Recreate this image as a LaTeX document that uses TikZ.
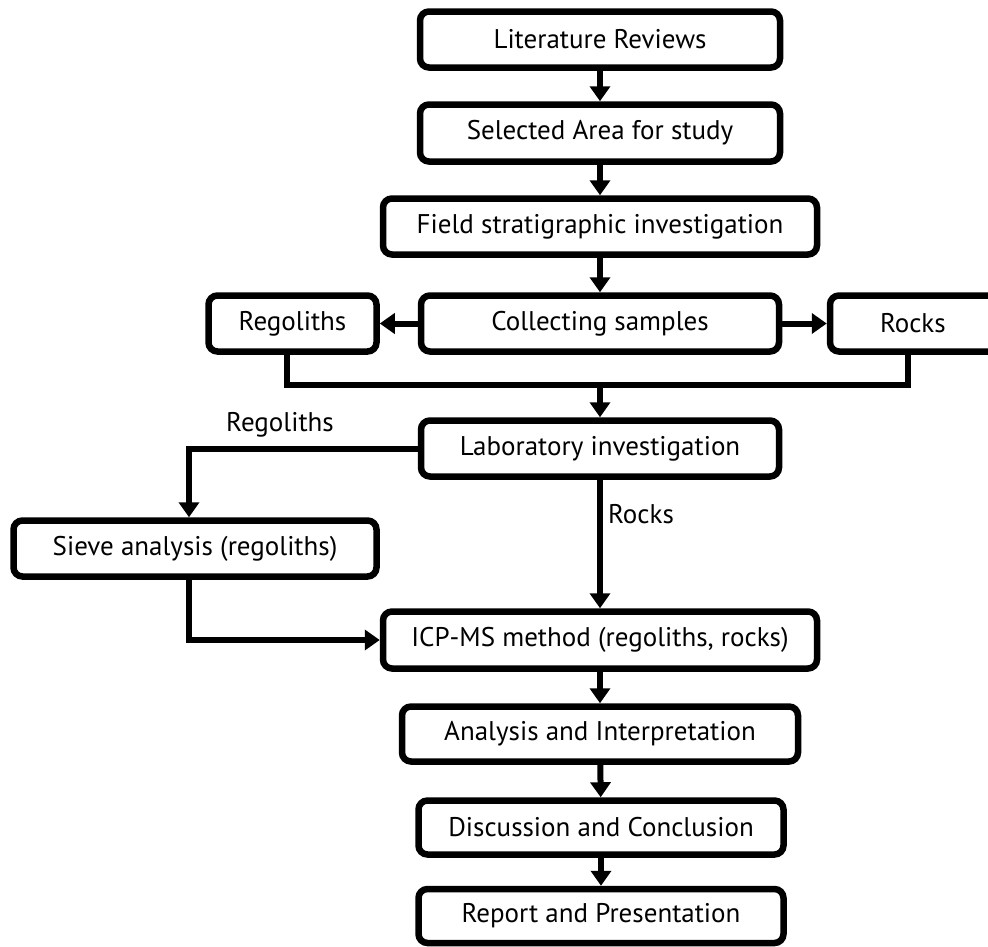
\documentclass[tikz,border=0pt]{standalone}
\usepackage{fontspec}
\setmainfont{PT Sans}
\usetikzlibrary{arrows.meta}
\begin{document}
\begin{tikzpicture}[x=1pt,y=-1pt,
  box/.style={draw, line width=6.5pt, rounded corners=9pt, inner sep=0pt,
    align=center, font=\fontsize{27}{30}\selectfont},
  conn/.style={line width=6pt, -{Triangle[length=15pt,width=20pt]}},
  plain/.style={line width=6pt},
  lbl/.style={font=\fontsize{27}{30}\selectfont, inner sep=0pt}]
\useasboundingbox (0,0) rectangle (988,946);
\clip (0,0) rectangle (988,946);
\node[box, minimum width=360pt, minimum height=56pt] (lit)   at (600,39.5) {Literature Reviews};
\node[box, minimum width=360pt, minimum height=57pt] (sel)   at (600,133) {Selected Area for study};
\node[box, minimum width=434pt, minimum height=56pt] (field) at (600,226.5) {Field stratigraphic investigation};
\node[box, minimum width=358pt, minimum height=56pt] (coll)  at (600,323.5) {Collecting samples};
\node[box, minimum width=168pt, minimum height=56pt] (reg)   at (292.5,323.5) {Regoliths};
\node[box, minimum width=170pt, minimum height=56pt] (rocks) at (915,323.5) {\makebox[150pt][l]{\hspace*{40pt}Rocks}};
\node[box, minimum width=358pt, minimum height=56pt] (lab)   at (600,448.5) {Laboratory investigation};
\node[box, minimum width=363pt, minimum height=56pt] (sieve) at (195,548.5) {Sieve analysis (regoliths)};
\node[box, minimum width=434pt, minimum height=57pt] (icp)   at (600,640) {ICP-MS method (regoliths, rocks)};
\node[box, minimum width=396pt, minimum height=55pt] (ana)   at (600,734) {Analysis and Interpretation};
\node[box, minimum width=365pt, minimum height=54pt] (disc)  at (601,827.5) {Discussion and Conclusion};
\node[box, minimum width=365pt, minimum height=54pt] (rep)   at (601,916) {Report and Presentation};

\coordinate (jl) at (287,385);
\coordinate (jr) at (908,385);
\coordinate (jm) at (600,385);
\coordinate (sv) at (189,448.5);

\draw[conn] (lit) -- (sel);
\draw[conn] (sel) -- (field);
\draw[conn] (field) -- (coll);
\draw[conn] (coll) -- (reg);
\draw[conn] (coll) -- (rocks.west);
\draw[plain] (jl |- reg.south) -- (jl) -- (jr) -- (jr |- rocks.south);
\draw[conn] (jm) -- (lab);
\draw[conn] (lab.west) -- (sv) -- (sv |- sieve.north);
\node[lbl] (lreg) at (280,425) {Regoliths};
\draw[conn] (lab) -- (icp);
\node[lbl] (lrock) at (641,514) {Rocks};
\draw[conn] (sv |- sieve.south) |- (icp.west);
\draw[conn] (icp) -- (ana);
\draw[conn] (ana) -- (disc);
\draw[conn] (disc) -- (rep);
\end{tikzpicture}
\end{document}
